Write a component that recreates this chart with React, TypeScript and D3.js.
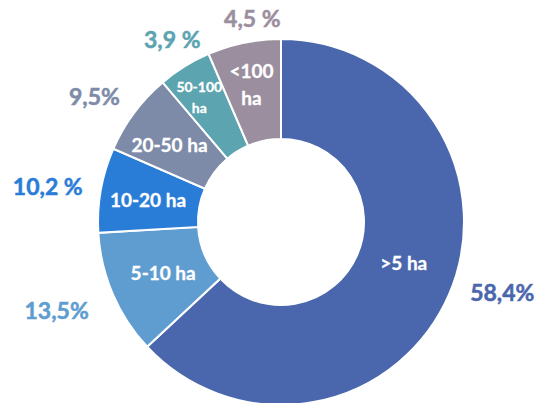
import React from "react";
import * as d3 from "d3";

// Slice sizes (arc extent, degrees)
const categories = [">5 ha", "5-10 ha", "10-20 ha", "20-50 ha", "50-100 ha", "<100 ha"];
const arcValues = [227, 39.6, 27, 26.1, 17, 23.3];
const percentLabels = ["58,4%", "13,5%", "10,2 %", "9,5%", "3,9 %", "4,5 %"];
const innerLines = [[">5 ha"], ["5-10 ha"], ["10-20 ha"], ["20-50 ha"], ["50-100", "ha"], ["<100", "ha"]];
const colors = ["#4A67AD", "#5F9DD1", "#2A7DD6", "#7D8BA8", "#5BA4B0", "#9B8E9E"];

// layout (polar placement of labels: degrees clockwise from top, radius)
const outerPos = [
  [107.5, 232], [248.6, 241], [278.8, 236], [304, 225], [329.3, 213], [352, 206],
];
const innerPos = [
  [107.9, 129], [247, 128], [279.8, 135], [304.9, 136], [327, 150], [348, 142],
];
const innerSize = [19, 19, 19, 19, 14, 19];
const innerLineH = [0, 0, 0, 0, 21, 27];

const W = 539, H = 403;
const cx = 281, cy = 222;
const R = 183, r0 = 83;

function polar(deg: number, rad: number) {
  const a = (deg * Math.PI) / 180;
  return [cx + rad * Math.sin(a), cy - rad * Math.cos(a)];
}

export default function App() {
  const pie = d3.pie<number>().sort(null).value((d) => d).startAngle(0).endAngle(2 * Math.PI);
  const arcs = pie(arcValues);
  const arc = d3.arc<d3.PieArcDatum<number>>().innerRadius(r0).outerRadius(R);
  const font = "Lato, 'Open Sans', sans-serif";
  return (
    <svg width={W} height={H} style={{ position: "absolute", left: 0, top: 0 }} fontFamily={font}>
      <rect width={W} height={H} fill="#fff" />
      <g transform={`translate(${cx},${cy})`}>
        {arcs.map((a, i) => (
          <path key={categories[i]} d={arc(a) || ""} fill={colors[i]} stroke="#fff" strokeWidth={2} />
        ))}
      </g>
      {percentLabels.map((t, i) => {
        const [x, y] = polar(outerPos[i][0], outerPos[i][1]);
        return (
          <text key={t} x={x} y={y} fill={colors[i]} stroke={colors[i]} strokeWidth={0.5} fontSize={23} fontWeight={700} textAnchor="middle" dominantBaseline="central">
            {t}
          </text>
        );
      })}
      {innerLines.map((lines, i) => {
        const [x, y] = polar(innerPos[i][0], innerPos[i][1]);
        const lh = innerLineH[i];
        const y0 = y - ((lines.length - 1) * lh) / 2;
        return (
          <text key={categories[i]} fill="#fff" stroke="#fff" strokeWidth={0.3} fontSize={innerSize[i]} fontWeight={700} textAnchor="middle" dominantBaseline="central">
            {lines.map((l, j) => (
              <tspan key={j} x={x} y={y0 + j * lh}>{l}</tspan>
            ))}
          </text>
        );
      })}
    </svg>
  );
}
